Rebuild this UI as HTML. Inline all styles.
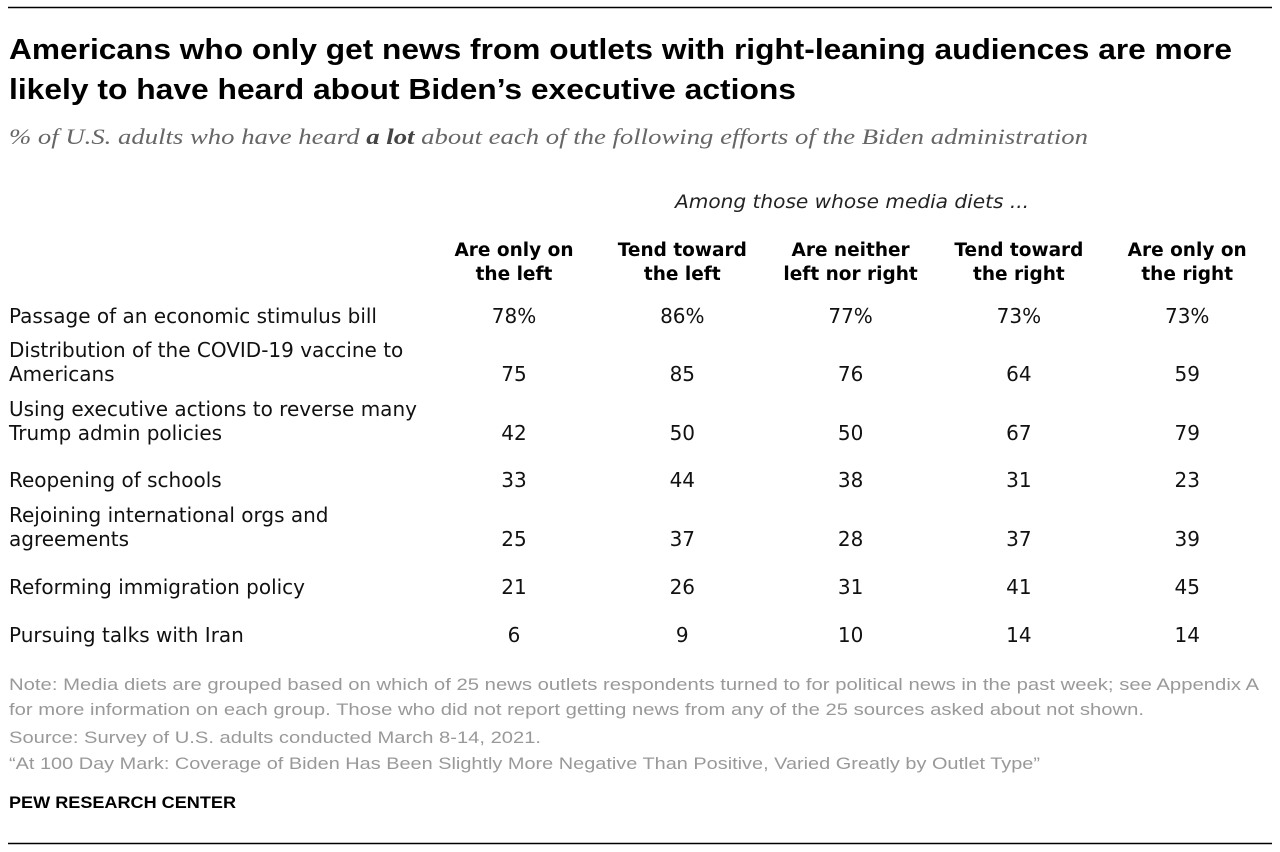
<!DOCTYPE html>
<html><head><meta charset="utf-8"><style>
body{margin:0;background:#fff;}
svg{display:block;font-family:"Liberation Sans",sans-serif;}
</style></head><body>
<svg width="1280" height="852" viewBox="0 0 1280 852" id="fig">
<line x1="8" y1="7.5" x2="1272" y2="7.5" stroke="#000" stroke-width="1.5"/>
<text x="9" y="59" font-size="29" font-weight="bold" textLength="1223" lengthAdjust="spacingAndGlyphs">Americans who only get news from outlets with right-leaning audiences are more</text>
<text x="9" y="99" font-size="29" font-weight="bold" textLength="787" lengthAdjust="spacingAndGlyphs">likely to have heard about Biden’s executive actions</text>
<text x="9" y="144" font-size="22" font-style="italic" fill="#666" font-family="Liberation Serif,serif" textLength="1079" lengthAdjust="spacingAndGlyphs">% of U.S. adults who have heard <tspan font-weight="bold" fill="#444">a lot</tspan> about each of the following efforts of the Biden administration</text>
<text x="852" y="208" font-size="19" font-style="italic" text-anchor="middle" fill="#222" font-family="DejaVu Sans,sans-serif" textLength="354" lengthAdjust="spacingAndGlyphs">Among those whose media diets ...</text>
<g id="headers"></g>
<g id="rows"></g>
<g fill="#999" font-size="16.5">
<text x="9" y="690" textLength="1250" lengthAdjust="spacingAndGlyphs">Note: Media diets are grouped based on which of 25 news outlets respondents turned to for political news in the past week; see Appendix A</text>
<text x="9" y="715" textLength="1135" lengthAdjust="spacingAndGlyphs">for more information on each group. Those who did not report getting news from any of the 25 sources asked about not shown.</text>
<text x="9" y="743" textLength="532" lengthAdjust="spacingAndGlyphs">Source: Survey of U.S. adults conducted March 8-14, 2021.</text>
<text x="9" y="769" textLength="1031" lengthAdjust="spacingAndGlyphs">“At 100 Day Mark: Coverage of Biden Has Been Slightly More Negative Than Positive, Varied Greatly by Outlet Type”</text>
</g>
<text x="9" y="808" font-size="17" font-weight="bold" fill="#000" textLength="227" lengthAdjust="spacingAndGlyphs">PEW RESEARCH CENTER</text>
<line x1="8" y1="843.5" x2="1272" y2="843.5" stroke="#000" stroke-width="1.5"/>
</svg>
<script>
const columns=[["Are only on","the left"],["Tend toward","the left"],["Are neither","left nor right"],["Tend toward","the right"],["Are only on","the right"]];
const rowLabels=[["Passage of an economic stimulus bill"],["Distribution of the COVID-19 vaccine to","Americans"],["Using executive actions to reverse many","Trump admin policies"],["Reopening of schools"],["Rejoining international orgs and","agreements"],["Reforming immigration policy"],["Pursuing talks with Iran"]];
const onlyLeft=[78,75,42,33,25,21,6];
const tendLeft=[86,85,50,44,37,26,9];
const neither=[77,76,50,38,28,31,10];
const tendRight=[73,64,67,31,37,41,14];
const onlyRight=[73,59,79,23,39,45,14];
const series=[onlyLeft,tendLeft,neither,tendRight,onlyRight];
const NS="http://www.w3.org/2000/svg";
const colX=i=>514+i*168.3;
const rowY=[323,381,440,487,546,594,642];
function t(parent,x,y,s,attrs){const e=document.createElementNS(NS,"text");e.setAttribute("x",x);e.setAttribute("y",y);for(const k in attrs)e.setAttribute(k,attrs[k]);e.textContent=s;parent.appendChild(e);return e;}
const H=document.getElementById("headers"),R=document.getElementById("rows");
const DV="DejaVu Sans,sans-serif";
columns.forEach((c,i)=>{c.forEach((ln,j)=>{const e=t(H,colX(i),256+j*24,ln,{"font-size":"18.5","font-weight":"bold","text-anchor":"middle","font-family":DV});

});});
rowLabels.forEach((lab,r)=>{const y=rowY[r];const n=lab.length;
lab.forEach((ln,j)=>{const e=t(R,9,y-(n-1-j)*24,ln,{"font-size":"20","fill":"#111","font-family":DV});

});
series.forEach((s,i)=>{const e=t(R,colX(i),y,s[r]+(r===0?"%":""),{"font-size":"20","text-anchor":"middle","fill":"#111","font-family":DV});

});});
</script>
</body></html>
